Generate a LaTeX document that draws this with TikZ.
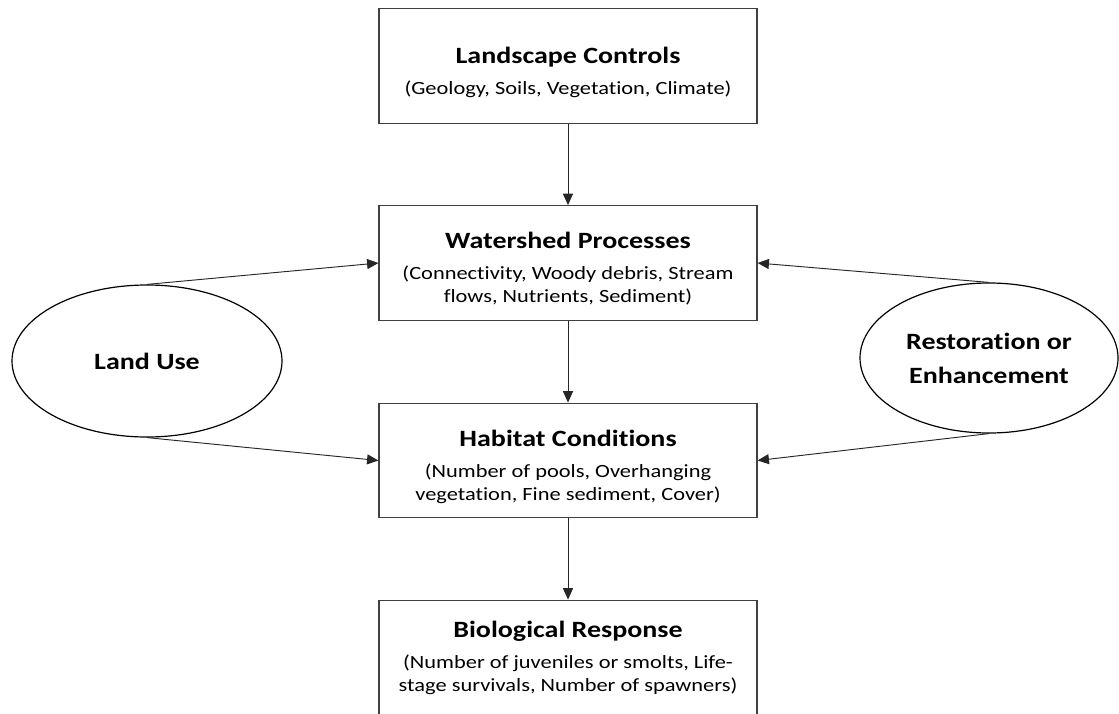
\documentclass[tikz,border=0pt]{standalone}
\usepackage{fontspec}
\setmainfont{Carlito}[FakeStretch=1.2, Ligatures=NoCommon]
\usetikzlibrary{arrows.meta,shapes.geometric}
\begin{document}
\begin{tikzpicture}[x=0.75pt,y=-0.75pt,
  box/.style={draw=black!75, line width=0.9pt, minimum width=283.5pt, minimum height=86pt,
    inner sep=0pt},
  boxtext/.style={inner sep=0pt, align=center, font=\fontsize{14}{17.25}\selectfont},
  oval/.style={draw=black, line width=0.9pt, ellipse, inner sep=0pt, align=center,
    font=\fontsize{17.5}{25.5}\selectfont\bfseries},
  conn/.style={draw=black!85, line width=0.7pt, -{Triangle[length=8.5pt,width=7.5pt]}}]
\useasboundingbox (0,0) rectangle (1119,713);
\clip (0,0) rectangle (1119,713);
\newcommand{\boxtitle}[1]{{\fontsize{17.5}{20}\selectfont\bfseries #1}}
\node[box] (lc) at (568,66) {};
\node[box] (wp) at (568,263) {};
\node[box] (hc) at (568,460.5) {};
\node[box] (br) at (568,657.5) {};
\node[boxtext] (lct) at (568,72.5) {\boxtitle{Landscape Controls}\\[6pt](Geology, Soils, Vegetation, Climate)};
\node[boxtext] (wpt) at (568,268.5) {\boxtitle{Watershed Processes}\\[6pt](Connectivity, Woody debris, Stream\\flows, Nutrients, Sediment)};
\node[boxtext] (hct) at (568,467) {\boxtitle{Habitat Conditions}\\[6pt](Number of pools, Overhanging\\vegetation, Fine sediment, Cover)};
\node[boxtext] (brt) at (568,657.5) {\boxtitle{Biological Response}\\[6pt](Number of juveniles or smolts, Life-\\stage survivals, Number of spawners)};
\node[oval, minimum width=202.5pt, minimum height=114pt] (lu) at (147,361) {Land Use};
\node[oval, minimum width=193.5pt, minimum height=112.5pt] (re) at (989,358) {Restoration or\\Enhancement};
\draw[conn] (lc) -- (wp);
\draw[conn] (wp) -- (hc);
\draw[conn] (hc) -- (br);
\draw[conn] (lu.north) -- (wp.west);
\draw[conn] (lu.south) -- (hc.west);
\draw[conn] (re.north) -- (wp.east);
\draw[conn] (re.south) -- (hc.east);
\end{tikzpicture}
\end{document}
